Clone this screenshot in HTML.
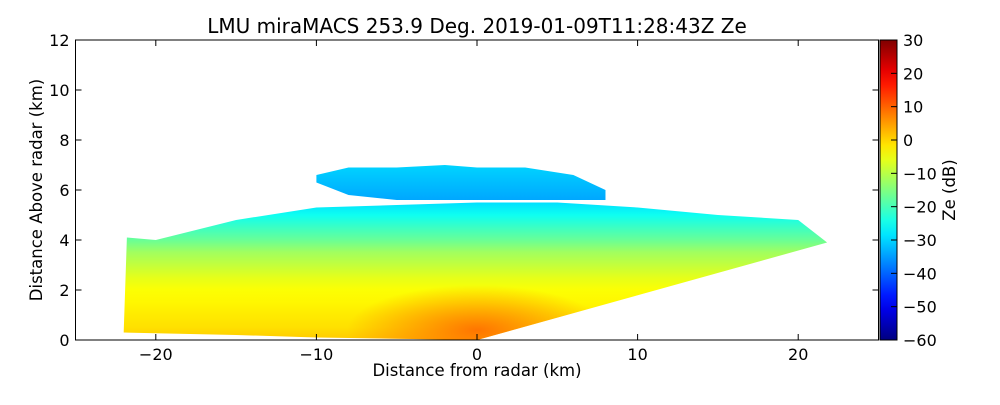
<!DOCTYPE html>
<html><head><meta charset="utf-8"><style>
body{margin:0;background:#fff}
svg text{font-family:"DejaVu Sans","Liberation Sans",sans-serif;fill:#000}
</style></head><body>
<svg id="c" width="1000" height="400"></svg>
<script>
// data
const xTicks=[-20,-10,0,10,20];
const yTicks=[0,2,4,6,8,10,12];
const cbTicks=[30,20,10,0,-10,-20,-30,-40,-50,-60];
const profH=[0,0.5,1,1.5,2,2.5,3,3.5,4,4.5,5,5.5];
const profZe=[1,-1,-2,-3,-4,-6,-9,-12,-17,-21,-25,-29];
const topX=[-22,-21.8,-20,-15,-10,-5,0,5,10,15,20,21.8];
const topH=[0.3,4.1,4.0,4.8,5.3,5.4,5.5,5.5,5.3,5.0,4.8,3.9];
const botX=[21.8,0,-5,-10,-15,-22];
const botH=[3.9,0,0.05,0.1,0.2,0.3];
const cloudX=[-10,-8,-5,-2,0,3,6,8,8,5,0,-5,-8,-10];
const cloudH=[6.6,6.9,6.9,7.0,6.9,6.9,6.6,6.0,5.6,5.6,5.6,5.6,5.8,6.3];
const cloudZe=[-34,-30];
const blobX=0, blobH=0.4, blobZe=10;

const NS='http://www.w3.org/2000/svg',svg=document.getElementById('c');
const L=75.5,R=878.5,T=40,B=340;
const sx=v=>L+(v+25)/50*(R-L), sy=v=>B-v/12*(B-T);
const cT=40,cB=340,cy=v=>cB-(v+60)/90*(cB-cT);
function jet(v){v=Math.max(0,Math.min(1,v));const f=t=>Math.round(255*Math.max(0,Math.min(1,1.5-Math.abs(4*v-t))));return`rgb(${f(3)},${f(2)},${f(1)})`;}
const zc=z=>jet((z+60)/90);
function el(t,a,p){const e=document.createElementNS(NS,t);for(const k in a)e.setAttribute(k,a[k]);(p||svg).appendChild(e);return e;}
const defs=el('defs',{});
const g=el('linearGradient',{id:'pg',x1:0,y1:sy(0),x2:0,y2:sy(5.5),gradientUnits:'userSpaceOnUse'},defs);
profH.forEach((h,i)=>el('stop',{offset:h/5.5,'stop-color':zc(profZe[i])},g));
const g2=el('linearGradient',{id:'cgr',x1:0,y1:sy(5.6),x2:0,y2:sy(7),gradientUnits:'userSpaceOnUse'},defs);
el('stop',{offset:0,'stop-color':zc(cloudZe[0])},g2);el('stop',{offset:1,'stop-color':zc(cloudZe[1])},g2);
const rg=el('radialGradient',{id:'bg'},defs);
el('stop',{offset:0,'stop-color':zc(blobZe),'stop-opacity':0.85},rg);
el('stop',{offset:1,'stop-color':zc(blobZe),'stop-opacity':0},rg);
const cg=el('linearGradient',{id:'cg',x1:0,y1:cB,x2:0,y2:cT,gradientUnits:'userSpaceOnUse'},defs);
for(let i=0;i<=20;i++)el('stop',{offset:i/20,'stop-color':jet(i/20)},cg);
const cp=el('clipPath',{id:'fan'},defs);
let pts=topX.map((x,i)=>sx(x)+','+sy(topH[i])).concat(botX.map((x,i)=>sx(x)+','+sy(botH[i])));
el('polygon',{points:pts.join(' ')},cp);
let fan=el('polygon',{points:pts.join(' '),fill:'url(#pg)'});

let gb=el('g',{'clip-path':'url(#fan)'});
let bl=el('ellipse',{cx:sx(blobX),cy:sy(blobH),rx:130,ry:45,fill:'url(#bg)'},gb);

let cl=el('polygon',{points:cloudX.map((x,i)=>sx(x)+','+sy(cloudH[i])).join(' '),fill:'url(#cgr)'});

let fr=el('rect',{x:L,y:T,width:R-L,height:B-T,fill:'none',stroke:'#000','stroke-width':1});

xTicks.forEach(v=>{const x=sx(v);el('line',{x1:x,x2:x,y1:B,y2:B-6,stroke:'#000'});el('line',{x1:x,x2:x,y1:T,y2:T+6,stroke:'#000'});
 const t=el('text',{x:x,y:B+20,'text-anchor':'middle','font-size':16});t.textContent=v<0?'\u2212'+(-v):v;
 });
yTicks.forEach(v=>{const y=sy(v);el('line',{x1:L,x2:L+6,y1:y,y2:y,stroke:'#000'});el('line',{x1:R,x2:R-6,y1:y,y2:y,stroke:'#000'});
 const t=el('text',{x:L-6,y:y+6,'text-anchor':'end','font-size':16});t.textContent=v;
 });
let cb=el('rect',{x:880,y:cT,width:17,height:cB-cT,fill:'url(#cg)',stroke:'#000'});

cbTicks.forEach(v=>{const y=cy(v);el('line',{x1:891,x2:897,y1:y,y2:y,stroke:'#000'});
 const t=el('text',{x:903,y:y+6,'font-size':16});t.textContent=v<0?'\u2212'+(-v):v;
 });
function txt(s,a,n){const t=el('text',a);t.textContent=s;}
txt('LMU miraMACS 253.9 Deg. 2019-01-09T11:28:43Z  Ze',{x:477,y:33,'text-anchor':'middle','font-size':20,'xml:space':'preserve'},'chart-title');
txt('Distance from radar (km)',{x:477,y:376,'text-anchor':'middle','font-size':16.5},'x-axis-title');
txt('Distance Above radar  (km)',{x:0,y:0,'text-anchor':'middle','font-size':16.5,'xml:space':'preserve',transform:'translate(42,190) rotate(-90)'},'y-axis-title');
txt('Ze (dB)',{x:0,y:0,'text-anchor':'middle','font-size':16.5,transform:'translate(955,190) rotate(-90)'},'colorbar-title');
</script>
</body></html>
